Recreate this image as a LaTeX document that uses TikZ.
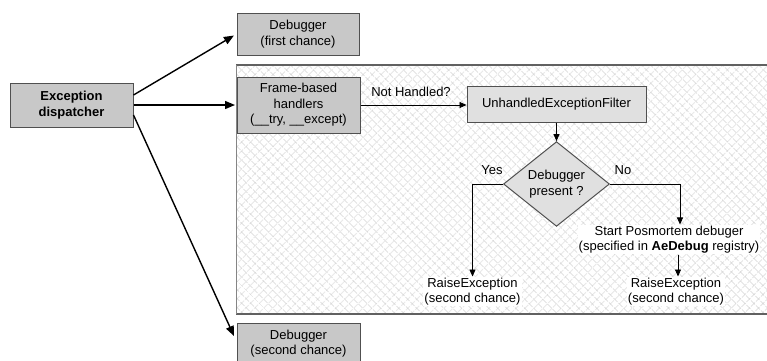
\documentclass[tikz,border=0pt]{standalone}
\usepackage{fontspec}
\setmainfont{Liberation Sans}
\usetikzlibrary{shapes.geometric,patterns.meta,arrows.meta,calc}
\definecolor{boxfill}{HTML}{C8C8C8}
\definecolor{lightfill}{HTML}{E0E0E0}
\definecolor{edge}{HTML}{505050}
\definecolor{hatch}{HTML}{C4C4C4}
\tikzset{
  gbox/.style={draw=edge, line width=1pt, fill=boxfill, align=center, inner sep=1pt},
  lbox/.style={draw=edge, line width=1pt, fill=lightfill, align=center, inner sep=1pt},
  txt/.style={fill=white, align=center, inner sep=1pt},
  lbl/.style={align=center, inner sep=0pt},
  bigarrow/.style={line width=1.4pt, -{Triangle[length=10pt,width=8pt]}},
  smallarrow/.style={line width=0.9pt, -{Triangle[length=7pt,width=6pt]}},
}
\begin{document}
\begin{tikzpicture}[x=1pt, y=-1pt, font=\fontsize{13}{15.5}\selectfont]
\useasboundingbox (0,0) rectangle (767,360);
% container
\fill[white] (236,65) rectangle (775,314);
\fill[pattern={Lines[angle=45,distance=6.4pt,line width=0.6pt]}, pattern color=hatch] (236,65) rectangle (775,314);
\fill[pattern={Lines[angle=-45,distance=6.4pt,line width=0.6pt]}, pattern color=hatch] (236,65) rectangle (775,314);
\draw[edge!90, line width=1.8pt] (236,65) -- (775,65);
\draw[edge!90, line width=1.8pt] (236,314) -- (775,314);
\draw[edge!70, line width=0.8pt] (236.5,65) -- (236.5,314);

% nodes
\node[gbox, minimum width=123pt, minimum height=44pt, font=\fontsize{13}{15.5}\selectfont\bfseries] (disp) at (71.5,105) {Exception\\dispatcher};
\node[gbox, minimum width=122pt, minimum height=42pt] (dbg1) at (298,34) {Debugger\\(first chance)};
\node[gbox, minimum width=123pt, minimum height=56pt] (frame) at (298.5,105) {Frame-based\\handlers\\(\_\_try, \_\_except)};
\node[gbox, minimum width=123pt, minimum height=40pt] (dbg2) at (298.5,343.5) {Debugger\\(second chance)};
\node[lbox, minimum width=179pt, minimum height=36pt] (uef) at (556.5,104) {UnhandledExceptionFilter};
\node[lbox, diamond, minimum width=106pt, minimum height=82pt, inner sep=0pt] (dia) at (556.5,184) {Debugger\\present ?};
\node[txt] (raise1) at (472.5,291.5) {RaiseException\\(second chance)};
\node[txt] (pm) at (669,239.5) {Start Posmortem debuger\\(specified in \textbf{AeDebug} registry)};
\node[txt] (raise2) at (676,291.5) {RaiseException\\(second chance)};
\node[lbl] (nh) at (411,92) {Not Handled?};
\node[lbl] (yes) at (492,170) {Yes};
\node[lbl] (no) at (623,170) {No};

% connectors
\draw[bigarrow, shorten >=3pt] ($(disp.east)+(0,-10)$) -- (dbg1.west);
\draw[bigarrow, shorten >=1.5pt] (disp.east) -- (frame.west);
\draw[bigarrow, shorten >=6pt] ($(disp.east)+(0,10)$) -- ($(dbg2.west)+(0,-2)$);
\draw[smallarrow] (frame.east) -- (frame.east -| uef.west);
\draw[smallarrow] (uef.south) -- (dia.north);
\draw[smallarrow] (dia.west) -| (raise1.north);
\draw[smallarrow] (dia.east) -| ([xshift=11pt]pm.north);
\draw[smallarrow] ([xshift=9pt]pm.south) -- ([xshift=2pt]raise2.north);
\end{tikzpicture}
\end{document}
